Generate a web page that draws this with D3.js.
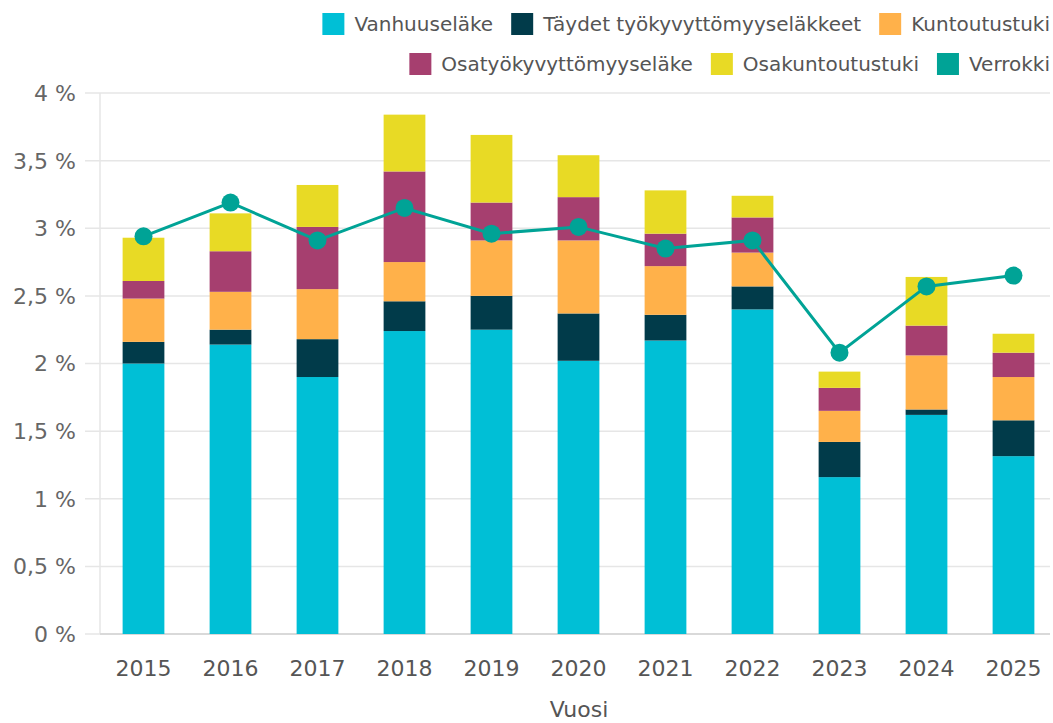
<!DOCTYPE html>
<html><head><meta charset="utf-8">
<script src="https://cdn.jsdelivr.net/npm/d3@7"></script>
<style>body{margin:0;background:#fff;}svg{display:block;font-family:"DejaVu Sans",Verdana,sans-serif;}</style>
</head><body>
<svg id="c" width="1053" height="723"></svg>
<script>
const years = ["2015","2016","2017","2018","2019","2020","2021","2022","2023","2024","2025"];
const vanhuuselake = [2.00,2.14,1.90,2.24,2.25,2.02,2.17,2.40,1.16,1.62,1.315];
const taydet = [0.16,0.11,0.28,0.22,0.25,0.35,0.19,0.17,0.26,0.04,0.265];
const kuntoutustuki = [0.32,0.28,0.37,0.29,0.41,0.54,0.36,0.25,0.23,0.40,0.32];
const osatyokyvyttomyyselake = [0.13,0.30,0.46,0.67,0.28,0.32,0.24,0.26,0.17,0.22,0.18];
const osakuntoutustuki = [0.32,0.28,0.31,0.42,0.50,0.31,0.32,0.16,0.12,0.36,0.14];
const verrokki = [2.94,3.19,2.91,3.15,2.96,3.01,2.85,2.91,2.08,2.57,2.65];
const yTicks = [0,0.5,1,1.5,2,2.5,3,3.5,4];
const seriesNames = ["Vanhuuseläke","Täydet työkyvyttömyyseläkkeet","Kuntoutustuki","Osatyökyvyttömyyseläke","Osakuntoutustuki","Verrokki"];
const colors = ["#00bfd6","#013b4a","#ffb14a","#a63f6f","#e8da25","#00a396"];
const stackArrays = [vanhuuselake,taydet,kuntoutustuki,osatyokyvyttomyyselake,osakuntoutustuki];

(function(){
const svg = d3.select("#c");
const pLeft = 100, pRight = 1057, pTop = 93, pBottom = 634;
const x = d3.scaleBand().domain(years).range([pLeft,pRight]).paddingInner(0.52).paddingOuter(0.26);
const y = d3.scaleLinear().domain([0,4]).range([pBottom,pTop]);

// grid
svg.append("g").selectAll("line").data(yTicks).join("line")
  .attr("x1",pLeft-15).attr("x2",1050)
  .attr("y1",d=>y(d)).attr("y2",d=>y(d))
  .attr("stroke","#e6e6e6").attr("stroke-width",1.5);
svg.append("line").attr("x1",pLeft).attr("x2",pLeft).attr("y1",pTop).attr("y2",pBottom)
  .attr("stroke","#e6e6e6").attr("stroke-width",1.5);
svg.append("line").attr("x1",pLeft).attr("x2",1050).attr("y1",pBottom).attr("y2",pBottom)
  .attr("stroke","#d9d9d9").attr("stroke-width",2);

// y labels
const fmt = d => String(d).replace(".",",") + " %";
svg.append("g").selectAll("text").data(yTicks).join("text")
  .attr("x",76).attr("y",d=>y(d)).attr("dy","0.36em").attr("text-anchor","end")
  .attr("fill","#666").attr("font-size",22).text(fmt);

// stacked bars
const rows = years.map((yr,i)=>{const o={year:yr}; stackArrays.forEach((a,k)=>o["s"+k]=a[i]); return o;});
const stack = d3.stack().keys(stackArrays.map((_,k)=>"s"+k))(rows);
svg.append("g").selectAll("g").data(stack).join("g").attr("fill",(d,k)=>colors[k])
  .selectAll("rect").data(d=>d).join("rect")
  .attr("x",d=>x(d.data.year)).attr("width",x.bandwidth())
  .attr("y",d=>y(d[1])).attr("height",d=>y(d[0])-y(d[1]));

// line
const cx = (d,i)=>x(years[i])+x.bandwidth()/2;
svg.append("path").datum(verrokki)
  .attr("fill","none").attr("stroke",colors[5]).attr("stroke-width",3)
  .attr("d",d3.line().x(cx).y(d=>y(d)));
svg.append("g").selectAll("circle").data(verrokki).join("circle")
  .attr("cx",cx).attr("cy",d=>y(d)).attr("r",9).attr("fill",colors[5]);

// x labels
svg.append("g").selectAll("text").data(years).join("text")
  .attr("x",d=>x(d)+x.bandwidth()/2).attr("y",676)
  .attr("text-anchor","middle").attr("fill","#555").attr("font-size",22).text(d=>d);
svg.append("text").attr("x",579).attr("y",717).attr("text-anchor","middle")
  .attr("fill","#555").attr("font-size",22).text("Vuosi");

// legend
const legendRows = [[0,1,2],[3,4,5]];
const legendY = [24,64];
legendRows.forEach((row,r)=>{
  const g = svg.append("g");
  let xpos = 0;
  row.forEach(k=>{
    const it = g.append("g").attr("transform",`translate(${xpos},0)`);
    it.append("rect").attr("x",0).attr("y",legendY[r]-11).attr("width",22).attr("height",22).attr("fill",colors[k]);
    const t = it.append("text").attr("x",32).attr("y",legendY[r]).attr("dy","0.36em")
      .attr("fill","#555").attr("font-size",20).text(seriesNames[k]);
    const w = t.node().getComputedTextLength();
    xpos += 32 + w + 18;
  });
  const total = xpos - 18;
  g.attr("transform",`translate(${1050-total},0)`);
});
})();
</script>
</body></html>
